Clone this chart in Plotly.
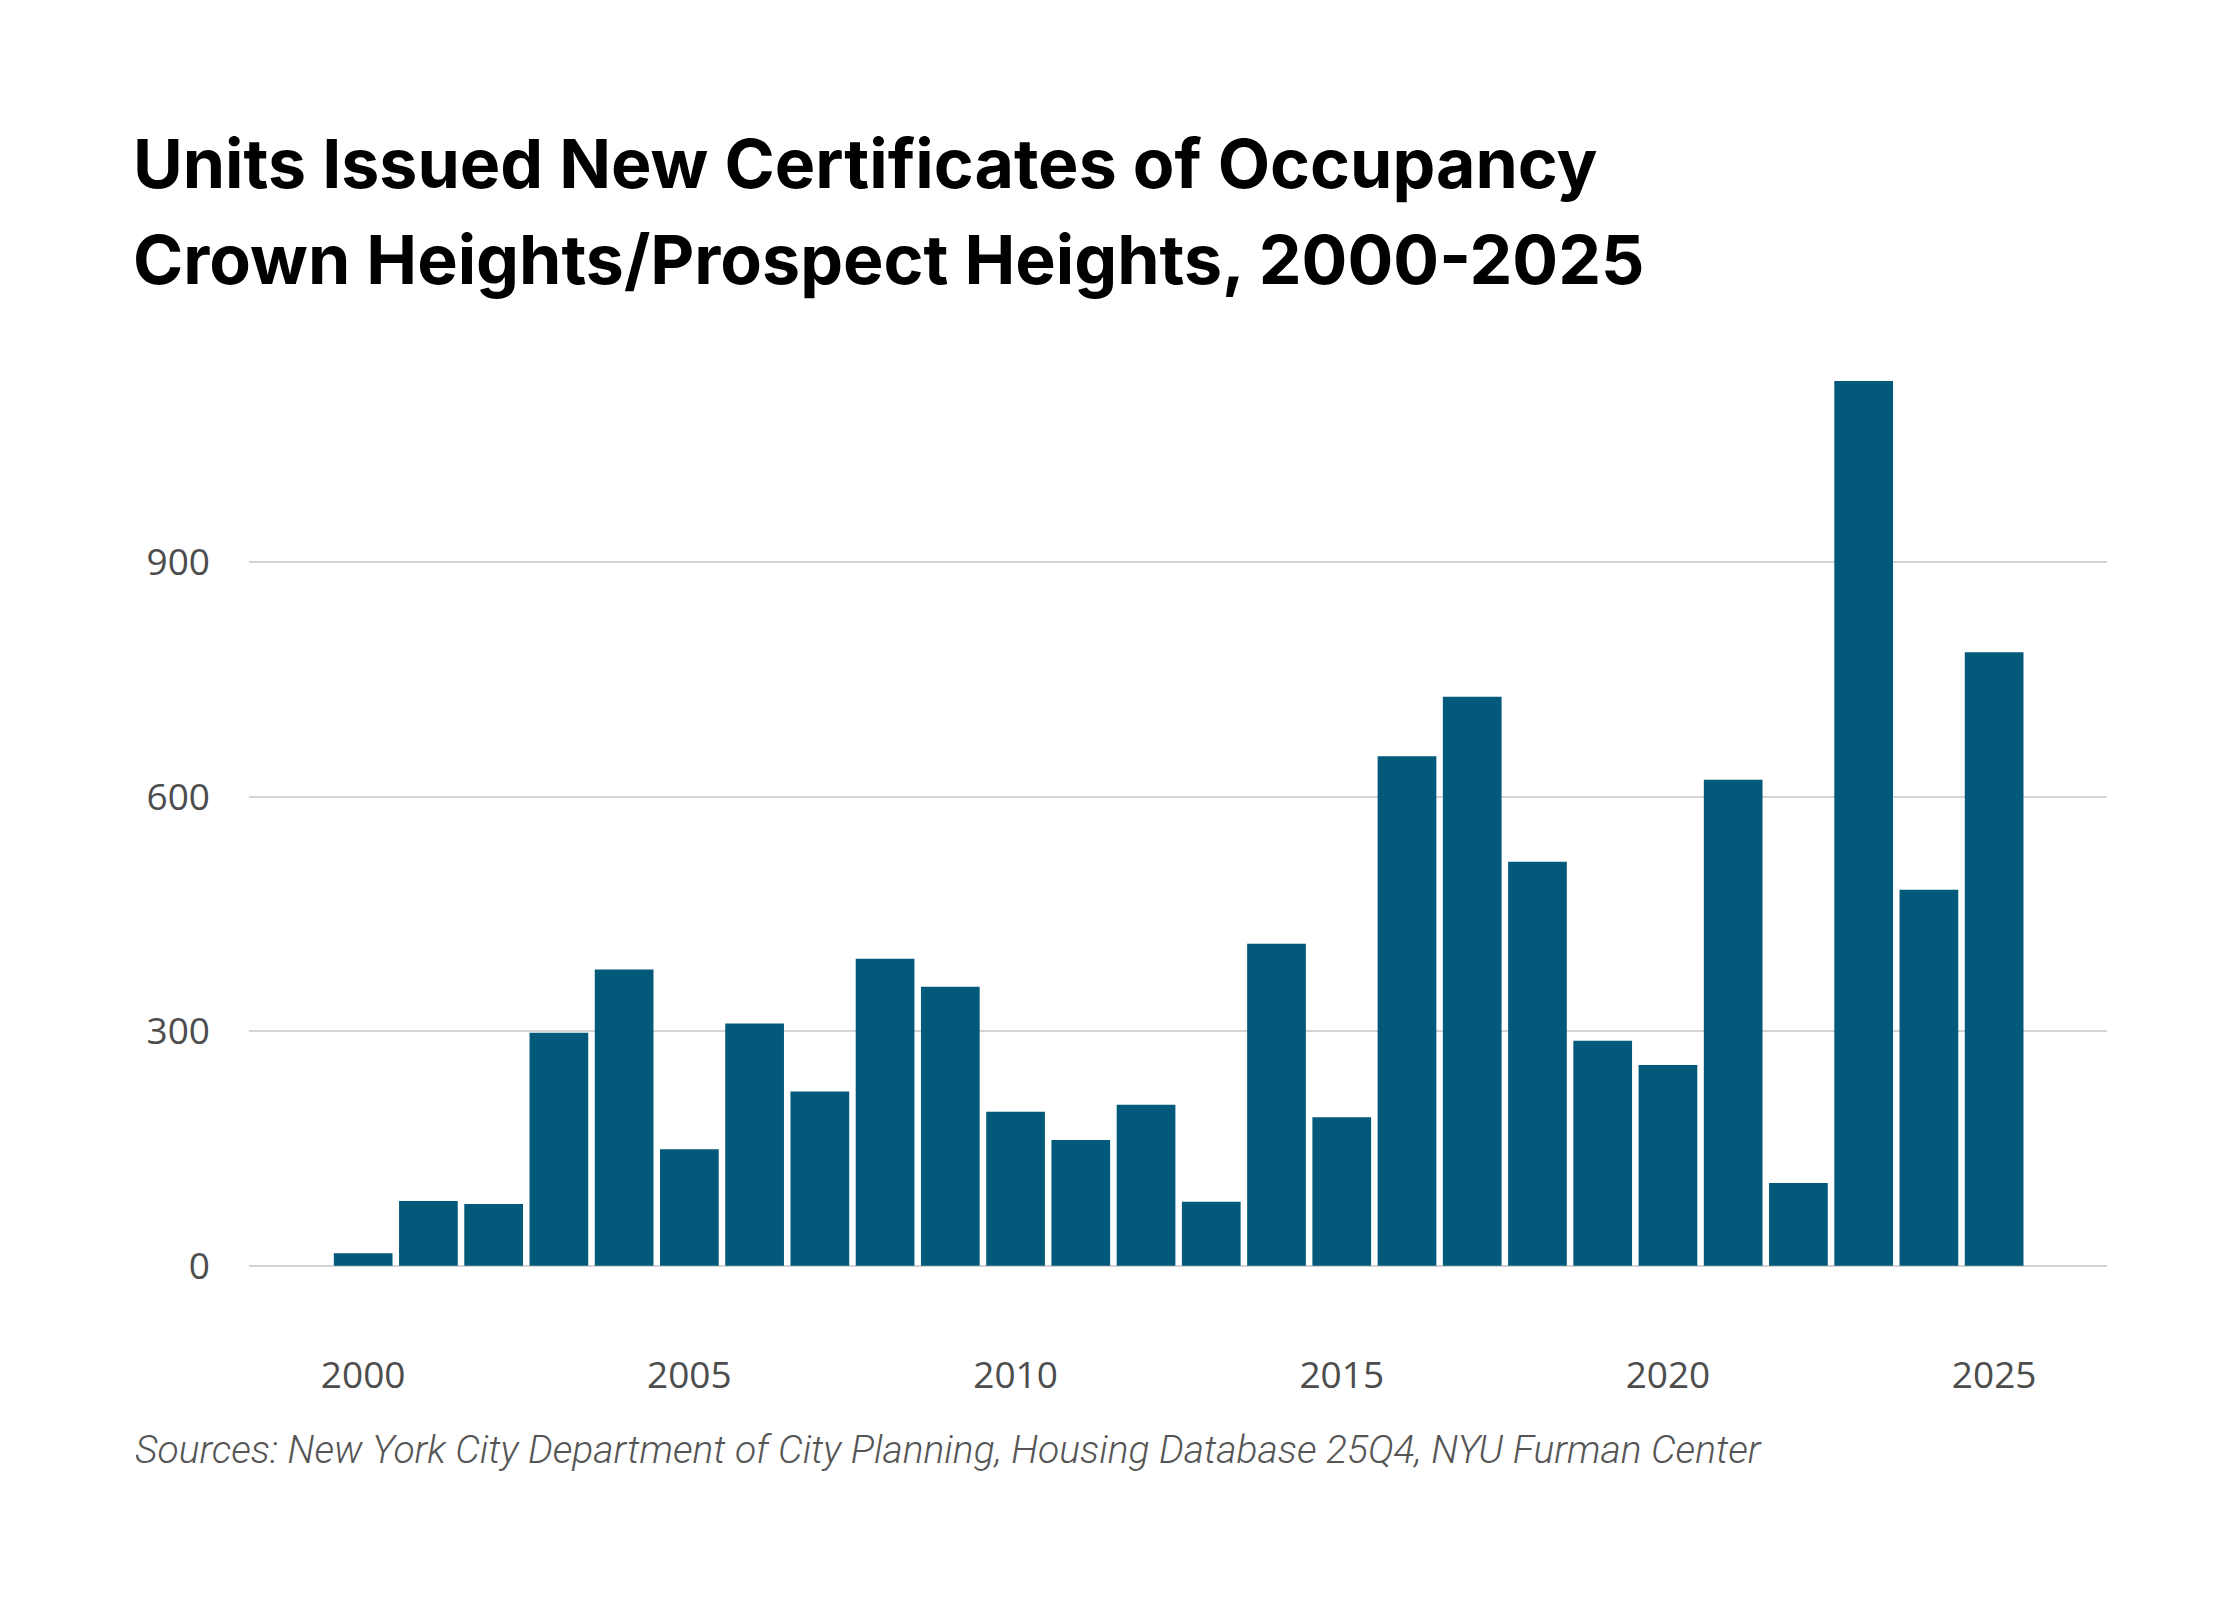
import plotly.graph_objects as go

years = list(range(2000, 2026))
units = [16, 83, 79, 298, 379, 149, 310, 223, 393, 357, 197, 161, 206, 82,
         412, 190, 652, 728, 517, 288, 257, 622, 106, 1132, 481, 785]

title_line1 = "Units Issued New Certificates of Occupancy"
title_line2 = "Crown Heights/Prospect Heights, 2000-2025"
source_text = "Sources: New York City Department of City Planning, Housing Database 25Q4, NYU Furman Center"
y_ticks = [0, 300, 600, 900]
x_ticks = [2000, 2005, 2010, 2015, 2020, 2025]

BAR_COLOR = "#02597a"
W, H = 2240, 1600
OFF = 8  # page body margin offset
L, R, T, B = 249 - OFF, 133 + OFF, 360 - OFF, 260 + OFF
plot_h = H - T - B


def py(px):
    return (H - B - (px - OFF)) / plot_h


def px_x(px):
    return (px - OFF - L) / (W - L - R)


fig = go.Figure()
fig.add_trace(go.Bar(
    x=years, y=units, marker=dict(color=BAR_COLOR, line=dict(width=0)),
    hoverinfo="x+y",
))

fig.update_layout(
    width=W, height=H,
    margin=dict(l=L, r=R, t=T, b=B, pad=0),
    paper_bgcolor="white", plot_bgcolor="white",
    bargap=0.1,
    showlegend=False,
    xaxis=dict(
        range=[1998.25, 2026.73], tickvals=x_ticks,
        ticktext=[str(v) for v in x_ticks],
        showgrid=False, zeroline=False, showline=False, ticks="",
        tickfont=dict(family="Open Sans", size=37, color="#4d4d4d"),
        ticklabelstandoff=10,
    ),
    yaxis=dict(
        range=[-95, 1159], tickvals=y_ticks,
        ticktext=[str(v) for v in y_ticks],
        showgrid=True, gridcolor="#d4d4d4", gridwidth=2,
        zeroline=False, showline=False, ticks="",
        tickfont=dict(family="Open Sans", size=37, color="#4d4d4d"),
        ticklabelstandoff=38,
    ),
    annotations=[
        dict(text=title_line1, xref="paper", yref="paper",
             x=px_x(131), y=py(163), xanchor="left", yanchor="middle",
             showarrow=False,
             font=dict(family="Inter", size=68, color="#000000", weight=700)),
        dict(text=title_line2, xref="paper", yref="paper",
             x=px_x(131), y=py(259), xanchor="left", yanchor="middle",
             showarrow=False,
             font=dict(family="Inter", size=68, color="#000000", weight=700)),
        dict(text="<i>" + source_text + "</i>", xref="paper", yref="paper",
             x=px_x(133), y=py(1450), xanchor="left", yanchor="middle",
             showarrow=False,
             font=dict(family="Roboto", size=39, color="#555555", weight=300)),
    ],
)

fig.write_html("out.html")
